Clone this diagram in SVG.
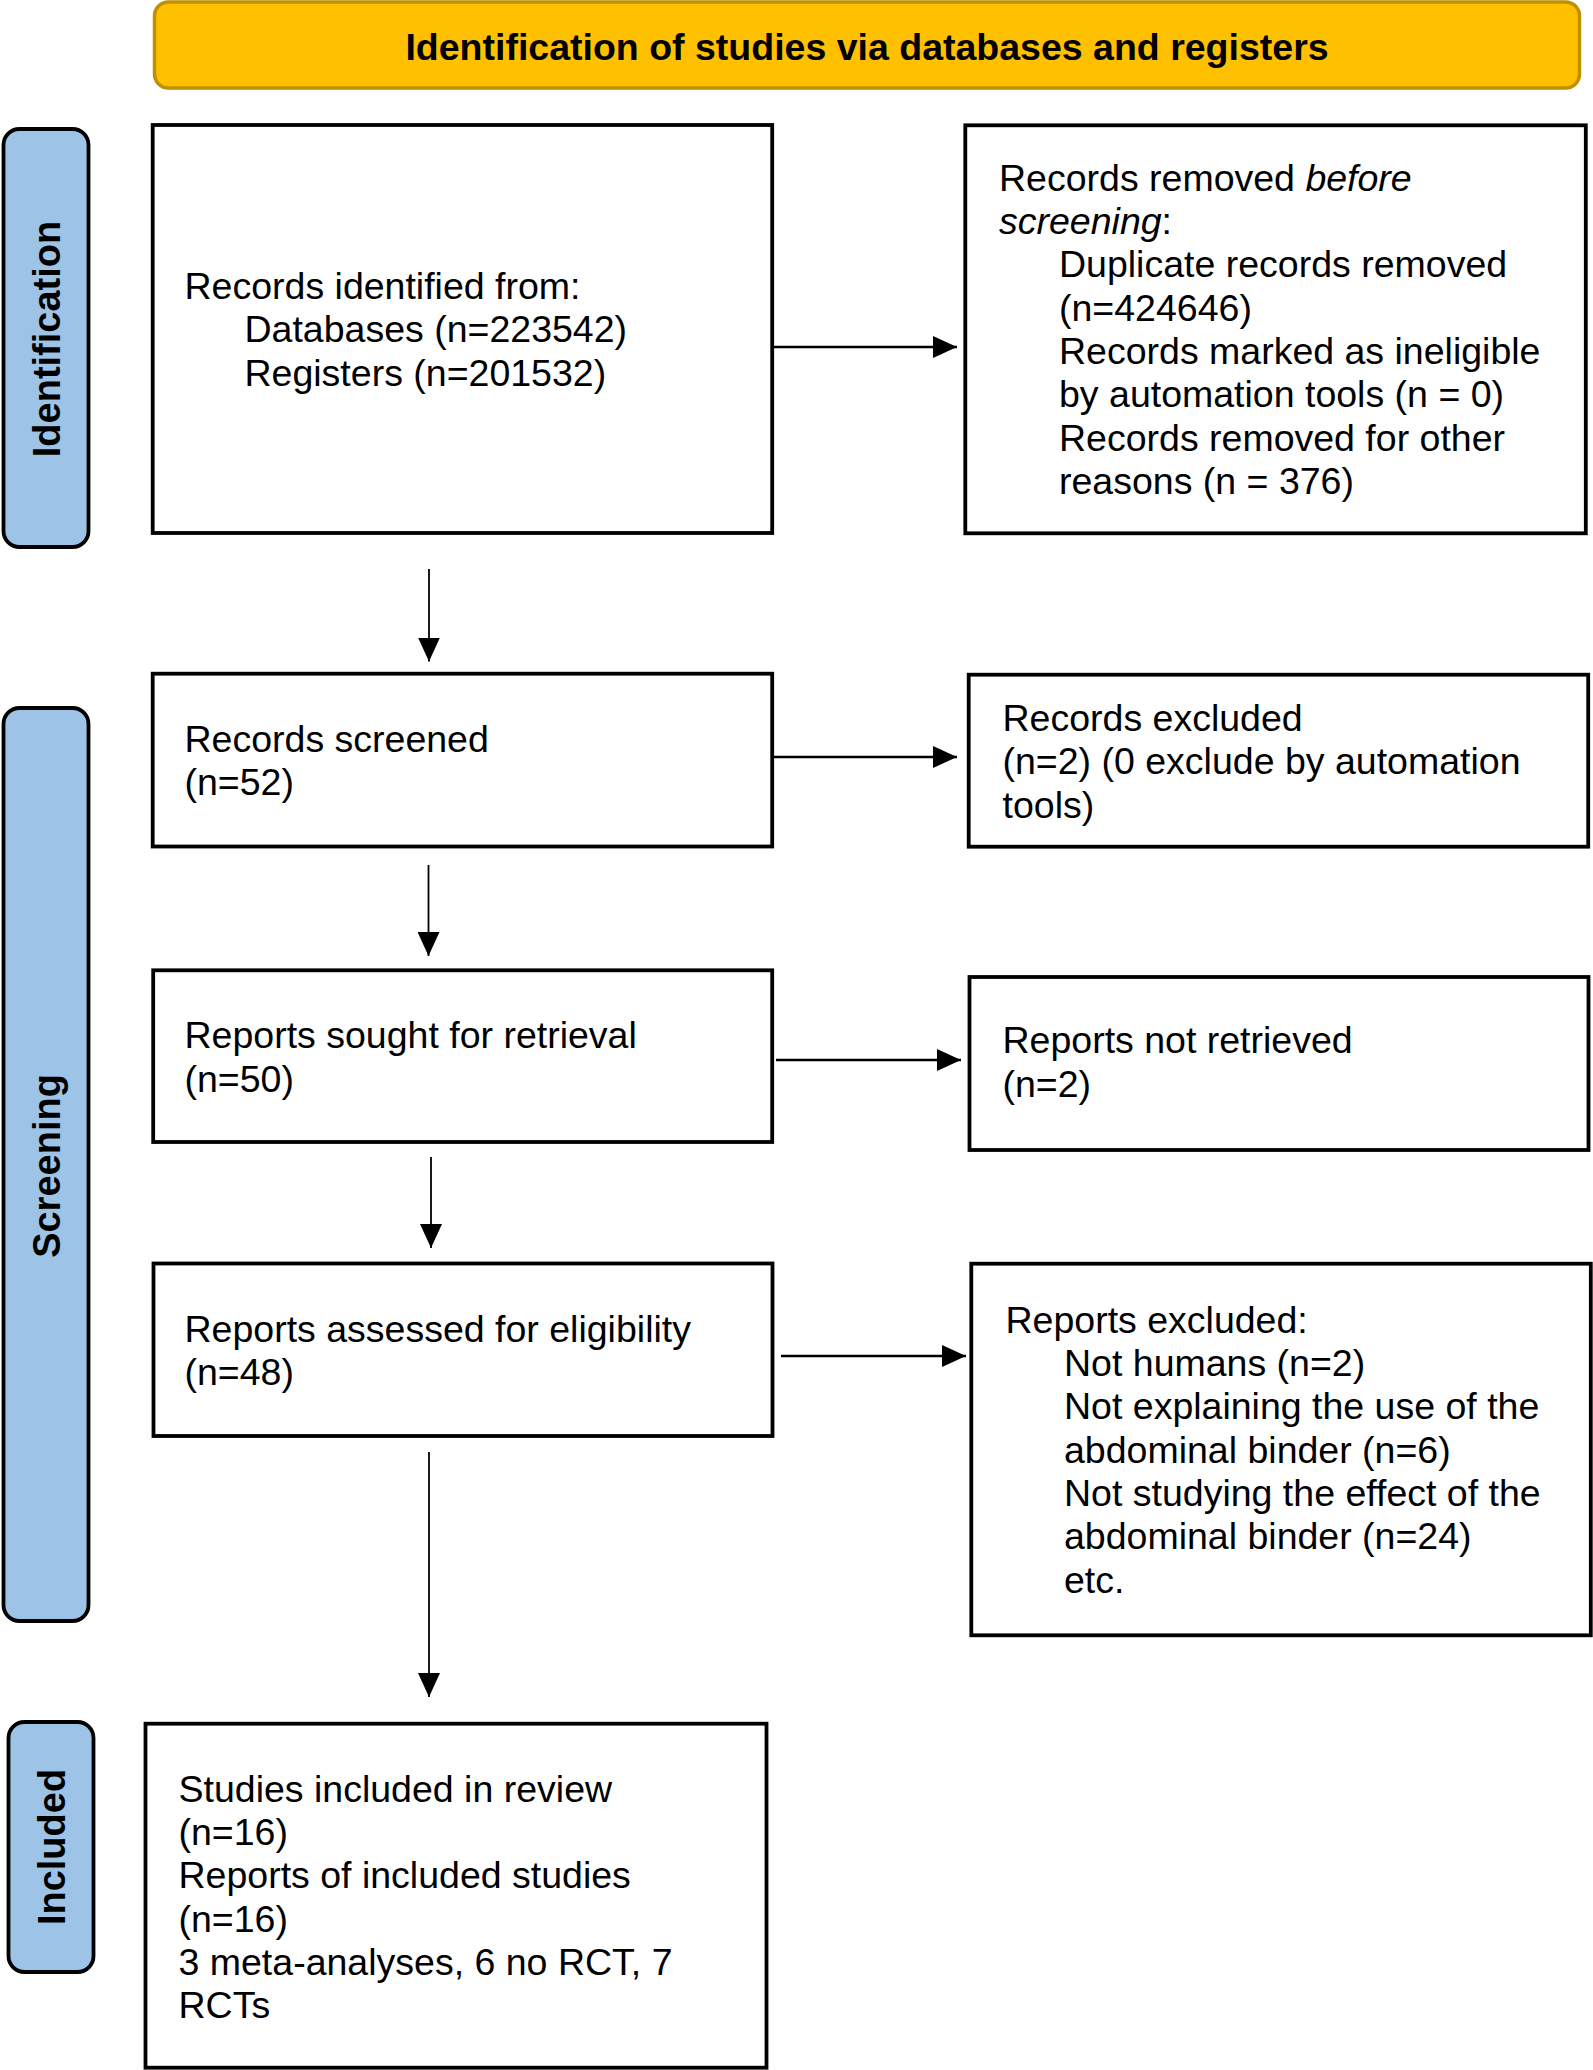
<svg xmlns="http://www.w3.org/2000/svg" width="1593" height="2070" viewBox="0 0 1593 2070">
<defs>
<style>
.box{fill:#ffffff;stroke:#000000;stroke-width:3.8}
.bar{fill:#9DC3E6;stroke:#000000;stroke-width:3.8}
.hdr{fill:#FFC000;stroke:#BF9000;stroke-width:3.5}
.t{font-family:"Liberation Sans",Arial,sans-serif;font-size:37.5px;fill:#000000}
.h{font-family:"Liberation Sans",Arial,sans-serif;font-size:37.5px;font-weight:bold;fill:#000000}
.v{font-family:"Liberation Sans",Arial,sans-serif;font-size:38px;font-weight:bold;fill:#000000}
.c{fill:none;stroke:#000000}
.ch{stroke-width:2.5}
.cv{stroke-width:1.8}
</style>
<marker id="ah" markerUnits="userSpaceOnUse" markerWidth="24" markerHeight="22" refX="24" refY="11" orient="auto" viewBox="0 0 24 22">
<path d="M0,0 L24,11 L0,22 z" fill="#000000"/>
</marker>
</defs>
<rect width="1593" height="2070" fill="#ffffff"/>

<g id="header">
<rect class="hdr" x="154.5" y="2" width="1425" height="86" rx="14" ry="14"/>
<text class="h" x="867" y="60" text-anchor="middle">Identification of studies via databases and registers</text>
</g>

<g id="phase-identification">
<rect class="bar" x="3.5" y="129" width="85" height="418" rx="16" ry="16"/>
<text class="v" transform="translate(60,339) rotate(-90)" text-anchor="middle">Identification</text>
</g>
<g id="phase-screening">
<rect class="bar" x="3.5" y="708" width="85" height="913" rx="16" ry="16"/>
<text class="v" transform="translate(60,1166) rotate(-90)" text-anchor="middle">Screening</text>
</g>
<g id="phase-included">
<rect class="bar" x="8.5" y="1722" width="85" height="250" rx="16" ry="16"/>
<text class="v" transform="translate(65,1847) rotate(-90)" text-anchor="middle">Included</text>
</g>

<g id="records-identified">
<rect class="box" x="152.7" y="125" width="619.5" height="408"/>
<text class="t" x="184.5" y="299">Records identified from:</text>
<text class="t" x="244.5" y="342.4">Databases (n=223542)</text>
<text class="t" x="244.5" y="385.8">Registers (n=201532)</text>
</g>

<g id="records-removed">
<rect class="box" x="965.3" y="125.3" width="620.5" height="408"/>
<text class="t" x="999" y="190.5">Records removed <tspan font-style="italic">before</tspan></text>
<text class="t" x="999" y="233.8"><tspan font-style="italic">screening</tspan>:</text>
<text class="t" x="1059" y="277.2">Duplicate records removed</text>
<text class="t" x="1059" y="320.5">(n=424646)</text>
<text class="t" x="1059" y="363.8">Records marked as ineligible</text>
<text class="t" x="1059" y="407.2">by automation tools (n = 0)</text>
<text class="t" x="1059" y="450.5">Records removed for other</text>
<text class="t" x="1059" y="493.8">reasons (n = 376)</text>
</g>

<g id="records-screened">
<rect class="box" x="152.7" y="673.7" width="619.5" height="172.8"/>
<text class="t" x="184.5" y="751.7">Records screened</text>
<text class="t" x="184.5" y="795">(n=52)</text>
</g>

<g id="records-excluded">
<rect class="box" x="968.7" y="674.7" width="619.5" height="172"/>
<text class="t" x="1002.5" y="731">Records excluded</text>
<text class="t" x="1002.5" y="774.3">(n=2) (0 exclude by automation</text>
<text class="t" x="1002.5" y="817.6">tools)</text>
</g>

<g id="reports-sought">
<rect class="box" x="153.2" y="970.3" width="619" height="171.7"/>
<text class="t" x="184.5" y="1048.3">Reports sought for retrieval</text>
<text class="t" x="184.5" y="1091.6">(n=50)</text>
</g>

<g id="reports-not-retrieved">
<rect class="box" x="969.5" y="977" width="619" height="173"/>
<text class="t" x="1002.5" y="1053.3">Reports not retrieved</text>
<text class="t" x="1002.5" y="1096.6">(n=2)</text>
</g>

<g id="reports-assessed">
<rect class="box" x="153.5" y="1263.5" width="619" height="172.5"/>
<text class="t" x="184.5" y="1341.5">Reports assessed for eligibility</text>
<text class="t" x="184.5" y="1384.8">(n=48)</text>
</g>

<g id="reports-excluded">
<rect class="box" x="971.3" y="1263.7" width="619.5" height="371.6"/>
<text class="t" x="1005.5" y="1332.7">Reports excluded:</text>
<text class="t" x="1064" y="1376">Not humans (n=2)</text>
<text class="t" x="1064" y="1419.3">Not explaining the use of the</text>
<text class="t" x="1064" y="1462.7">abdominal binder (n=6)</text>
<text class="t" x="1064" y="1506">Not studying the effect of the</text>
<text class="t" x="1064" y="1549.3">abdominal binder (n=24)</text>
<text class="t" x="1064" y="1592.7">etc.</text>
</g>

<g id="studies-included">
<rect class="box" x="145.5" y="1723.7" width="621" height="344"/>
<text class="t" x="178.5" y="1801.7">Studies included in review</text>
<text class="t" x="178.5" y="1845">(n=16)</text>
<text class="t" x="178.5" y="1888.3">Reports of included studies</text>
<text class="t" x="178.5" y="1931.7">(n=16)</text>
<text class="t" x="178.5" y="1975">3 meta-analyses, 6 no RCT, 7</text>
<text class="t" x="178.5" y="2018.3">RCTs</text>
</g>

<g id="connectors">
<path class="c ch" d="M772,347 H957" marker-end="url(#ah)"/>
<path class="c ch" d="M772,757 H957" marker-end="url(#ah)"/>
<path class="c ch" d="M776,1060 H961" marker-end="url(#ah)"/>
<path class="c ch" d="M781,1356 H966" marker-end="url(#ah)"/>
<path class="c cv" d="M429,569 V661.5" marker-end="url(#ah)"/>
<path class="c cv" d="M428.5,865 V956" marker-end="url(#ah)"/>
<path class="c cv" d="M431,1157 V1248" marker-end="url(#ah)"/>
<path class="c cv" d="M429,1452 V1697" marker-end="url(#ah)"/>
</g>
</svg>
